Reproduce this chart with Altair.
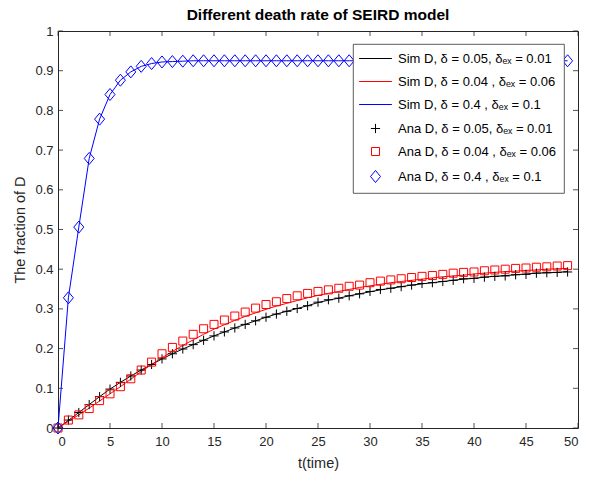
import altair as alt
import pandas as pd

# time steps
t = [0, 1, 2, 3, 4, 5, 6, 7, 8, 9,
     10, 11, 12, 13, 14, 15, 16, 17, 18, 19,
     20, 21, 22, 23, 24, 25, 26, 27, 28, 29,
     30, 31, 32, 33, 34, 35, 36, 37, 38, 39,
     40, 41, 42, 43, 44, 45, 46, 47, 48, 49]

# delta = 0.05, delta_ex = 0.01 (black)
sim_black = [0.000, 0.019, 0.039, 0.059, 0.079, 0.098, 0.115, 0.131, 0.146, 0.160,
             0.174, 0.187, 0.199, 0.210, 0.221, 0.232, 0.242, 0.252, 0.261, 0.270,
             0.279, 0.287, 0.294, 0.301, 0.308, 0.316, 0.322, 0.327, 0.333, 0.338,
             0.343, 0.348, 0.352, 0.356, 0.360, 0.363, 0.366, 0.369, 0.372, 0.375,
             0.377, 0.380, 0.382, 0.384, 0.386, 0.388, 0.390, 0.391, 0.392, 0.394]
ana_black = [0.000, 0.020, 0.039, 0.059, 0.079, 0.098, 0.115, 0.131, 0.146, 0.160,
             0.174, 0.187, 0.199, 0.210, 0.221, 0.232, 0.242, 0.252, 0.261, 0.270,
             0.279, 0.287, 0.294, 0.301, 0.308, 0.317, 0.323, 0.327, 0.333, 0.338,
             0.344, 0.349, 0.352, 0.356, 0.360, 0.364, 0.366, 0.369, 0.372, 0.376,
             0.377, 0.380, 0.382, 0.383, 0.386, 0.387, 0.390, 0.391, 0.392, 0.393]

# delta = 0.04, delta_ex = 0.06 (red)
sim_red = [0.000, 0.017, 0.033, 0.050, 0.068, 0.086, 0.104, 0.123, 0.142, 0.160,
           0.177, 0.193, 0.208, 0.222, 0.236, 0.249, 0.260, 0.271, 0.281, 0.290,
           0.299, 0.307, 0.314, 0.321, 0.328, 0.334, 0.339, 0.344, 0.349, 0.354,
           0.358, 0.362, 0.366, 0.369, 0.372, 0.375, 0.378, 0.381, 0.383, 0.385,
           0.388, 0.390, 0.392, 0.394, 0.395, 0.397, 0.398, 0.400, 0.401, 0.402]
ana_red = [0.000, 0.020, 0.033, 0.049, 0.069, 0.086, 0.104, 0.124, 0.146, 0.166,
           0.187, 0.203, 0.219, 0.236, 0.250, 0.261, 0.272, 0.282, 0.292, 0.302,
           0.311, 0.318, 0.326, 0.333, 0.339, 0.344, 0.348, 0.352, 0.357, 0.360,
           0.366, 0.370, 0.373, 0.376, 0.379, 0.382, 0.384, 0.387, 0.390, 0.392,
           0.393, 0.396, 0.398, 0.400, 0.402, 0.403, 0.405, 0.406, 0.408, 0.409]

# delta = 0.4, delta_ex = 0.1 (blue)
sim_blue = [0.000, 0.328, 0.506, 0.679, 0.778, 0.840, 0.876, 0.897, 0.911, 0.918,
            0.922, 0.923, 0.924, 0.925, 0.925, 0.925, 0.925, 0.925, 0.925, 0.925,
            0.925, 0.925, 0.925, 0.925, 0.925, 0.925, 0.925, 0.925, 0.925, 0.925,
            0.925, 0.925, 0.925, 0.925, 0.925, 0.925, 0.925, 0.925, 0.925, 0.925,
            0.925, 0.925, 0.925, 0.925, 0.925, 0.925, 0.925, 0.925, 0.925, 0.925]
ana_blue = [0.000, 0.328, 0.506, 0.679, 0.778, 0.840, 0.876, 0.897, 0.911, 0.918,
            0.922, 0.923, 0.924, 0.925, 0.925, 0.925, 0.925, 0.925, 0.925, 0.925,
            0.925, 0.925, 0.925, 0.925, 0.925, 0.925, 0.925, 0.925, 0.925, 0.925,
            0.925, 0.925, 0.925, 0.925, 0.925, 0.925, 0.925, 0.925, 0.925, 0.925,
            0.925, 0.925, 0.925, 0.925, 0.925, 0.925, 0.925, 0.925, 0.925, 0.925]

sim_names = ["Sim D, δ = 0.05, δₑₓ = 0.01",
             "Sim D, δ = 0.04 , δₑₓ = 0.06",
             "Sim D, δ = 0.4 , δₑₓ = 0.1"]
ana_names = ["Ana D, δ = 0.05, δₑₓ = 0.01",
             "Ana D, δ = 0.04 , δₑₓ = 0.06",
             "Ana D, δ = 0.4 , δₑₓ = 0.1"]

x_ticks = [0, 5, 10, 15, 20, 25, 30, 35, 40, 45, 50]
y_ticks = [0, 0.1, 0.2, 0.3, 0.4, 0.5, 0.6, 0.7, 0.8, 0.9, 1]

line_rows = []
for name, vals in zip(sim_names, [sim_black, sim_red, sim_blue]):
    for ti, v in zip(t, vals):
        line_rows.append({"t": ti, "value": v, "sim": name})
line_df = pd.DataFrame(line_rows)

point_rows = []
for name, vals in zip(ana_names, [ana_black, ana_red, ana_blue]):
    for ti, v in zip(t, vals):
        point_rows.append({"t": ti, "value": v, "series": name})
point_df = pd.DataFrame(point_rows)

all_names = sim_names + ana_names
palette = ["#000000", "#ff0000", "#0000ff"]
LINE = "M-4.1,0L4.1,0"
PLUS = "M-1.15,0L1.15,0M0,-1.15L0,1.15"
DIAMOND = "M0,-1.5L1.25,0L0,1.5L-1.25,0Z"

# colour scale gets one spare domain entry so its (hidden) legend stays separate
color_scale = alt.Scale(domain=all_names + [" "], range=palette + palette + ["#000000"])
stroke_scale = alt.Scale(domain=sim_names, range=palette)
shape_scale = alt.Scale(domain=all_names,
                        range=[LINE, LINE, LINE, PLUS, "square", DIAMOND])

legend_color_expr = ("indexof(datum.value, '0.04 ') >= 0 ? '#ff0000' : "
                     "(indexof(datum.value, '0.4 ') >= 0 ? '#0000ff' : '#000000')")

shape_legend = alt.Legend(
    title=None, orient="none", legendX=295, legendY=13,
    symbolStrokeColor=alt.ExprRef(expr=legend_color_expr),
    symbolFillColor="transparent",
)

xscale = alt.Scale(domain=[0, 50], nice=False, zero=False)
yscale = alt.Scale(domain=[0, 1], nice=False)

x_axis = alt.Axis(values=x_ticks, title="t(time)", format="~g",
                  titleX=260, titleY=35, titleBaseline="middle", titleAlign="center")
y_axis = alt.Axis(values=y_ticks, title="The fraction of D", format="~g",
                  titleX=-38, titleY=198.5, titleBaseline="middle", titleAlign="center")

lines = alt.Chart(line_df).mark_line(strokeWidth=1).encode(
    x=alt.X("t:Q", scale=xscale, axis=x_axis),
    y=alt.Y("value:Q", scale=yscale, axis=y_axis),
    stroke=alt.Stroke("sim:N", scale=stroke_scale, legend=None),
)

points = alt.Chart(point_df).mark_point(filled=False, size=64, strokeWidth=1, opacity=1).encode(
    x=alt.X("t:Q", scale=xscale, axis=x_axis),
    y=alt.Y("value:Q", scale=yscale, axis=y_axis),
    color=alt.Color("series:N", scale=color_scale, legend=None),
    shape=alt.Shape("series:N", scale=shape_scale, legend=shape_legend),
)

TICK = "#262626"
xt_df = pd.DataFrame({"t": x_ticks})
yt_df = pd.DataFrame({"value": y_ticks})

bottom_ticks = alt.Chart(xt_df).mark_rule(color=TICK, strokeWidth=0.8).encode(
    x=alt.X("t:Q", scale=xscale, axis=x_axis), y=alt.value(397), y2=alt.value(392))
top_ticks = alt.Chart(xt_df).mark_rule(color=TICK, strokeWidth=0.8).encode(
    x=alt.X("t:Q", scale=xscale, axis=x_axis), y=alt.value(0), y2=alt.value(5))
left_ticks = alt.Chart(yt_df).mark_rule(color=TICK, strokeWidth=0.8).encode(
    y=alt.Y("value:Q", scale=yscale, axis=y_axis), x=alt.value(0), x2=alt.value(5))
right_ticks = alt.Chart(yt_df).mark_rule(color=TICK, strokeWidth=0.8).encode(
    y=alt.Y("value:Q", scale=yscale, axis=y_axis), x=alt.value(520), x2=alt.value(515))

chart = alt.layer(lines, points, bottom_ticks, top_ticks, left_ticks, right_ticks).properties(
    width=520, height=397,
    autosize=alt.AutoSizeParams(type="none"),
    padding={"left": 58, "top": 31, "right": 11, "bottom": 51},
    title=alt.TitleParams("Different death rate of SEIRD model", anchor="middle", offset=2),
).configure_view(
    stroke="#262626", strokeWidth=1
).configure_axis(
    labelFont="Liberation Sans", labelFontSize=13, labelColor="#262626",
    titleFont="Liberation Sans", titleFontSize=14.5, titleColor="#262626",
    titleFontWeight="normal", ticks=False, tickSize=0, domain=False, grid=False,
    labelPadding=5
).configure_axisY(labelPadding=5).configure_axisX(labelPadding=7).configure_legend(
    labelFont="Liberation Sans", labelFontSize=13, labelColor="#000000",
    fillColor="white", strokeColor="#333333", strokeWidth=0.8,
    padding=8, rowPadding=9, symbolSize=64, symbolStrokeWidth=1,
    symbolOffset=8, labelOffset=16, labelLimit=400
).configure_title(
    font="Liberation Sans", fontSize=15.5, fontWeight="bold", color="#000000"
)

chart.save("out.html", embed_options={"renderer": "svg", "actions": False})
